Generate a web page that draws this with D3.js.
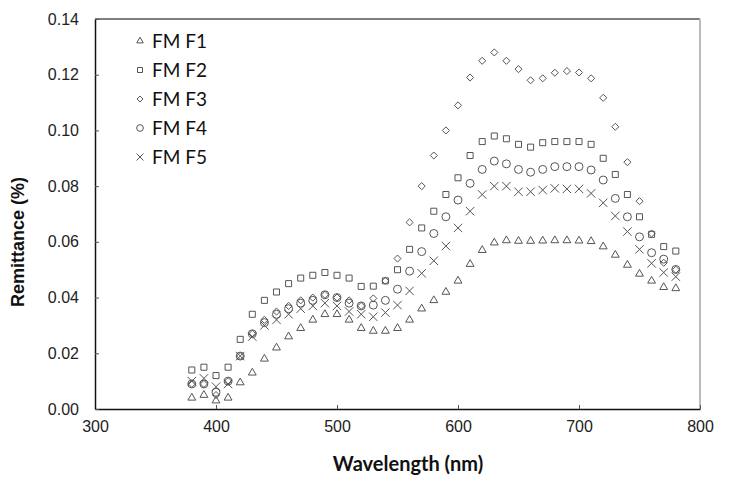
<!DOCTYPE html>
<html>
<head>
<meta charset="utf-8">
<script src="https://cdn.jsdelivr.net/npm/d3@7"></script>
<style>
  body { margin: 0; background: #fff; }
  svg { display: block; }
</style>
</head>
<body>
<svg width="736" height="487"></svg>
<script>
"use strict";

// comprimentos de onda, 380 a 780 nm de 10 em 10
var wavelengths = [380, 390, 400, 410, 420, 430, 440, 450, 460, 470,
    480, 490, 500, 510, 520, 530, 540, 550, 560, 570,
    580, 590, 600, 610, 620, 630, 640, 650, 660, 670,
    680, 690, 700, 710, 720, 730, 740, 750, 760, 770, 780];

var fmF1 = [0.004, 0.005, 0.003, 0.004, 0.0095, 0.013, 0.018, 0.022, 0.026, 0.029,
    0.032, 0.034, 0.034, 0.032, 0.029, 0.028, 0.028, 0.029, 0.032, 0.036,
    0.039, 0.042, 0.046, 0.052, 0.057, 0.0597, 0.0605, 0.0603, 0.0603, 0.0604,
    0.0605, 0.0605, 0.0604, 0.0602, 0.0583, 0.0553, 0.0517, 0.0485, 0.046, 0.0437, 0.0433];

var fmF2 = [0.014, 0.015, 0.012, 0.015, 0.025, 0.034, 0.039, 0.042, 0.045, 0.047,
    0.048, 0.049, 0.048, 0.047, 0.044, 0.0441, 0.046, 0.050, 0.0573, 0.065,
    0.071, 0.077, 0.083, 0.091, 0.096, 0.098, 0.097, 0.095, 0.094, 0.0956,
    0.096, 0.096, 0.096, 0.095, 0.090, 0.0842, 0.077, 0.069, 0.0627, 0.0583, 0.0567];

var fmF3 = [0.009, 0.009, 0.005, 0.010, 0.019, 0.027, 0.032, 0.035, 0.037, 0.039,
    0.040, 0.041, 0.040, 0.039, 0.037, 0.0397, 0.046, 0.054, 0.067, 0.080,
    0.091, 0.100, 0.109, 0.119, 0.125, 0.128, 0.125, 0.122, 0.118, 0.1187,
    0.1207, 0.1213, 0.1208, 0.1187, 0.1117, 0.1013, 0.0886, 0.0746, 0.063, 0.0525, 0.050];

var fmF4 = [0.009, 0.009, 0.006, 0.010, 0.019, 0.027, 0.031, 0.034, 0.036, 0.038,
    0.039, 0.041, 0.040, 0.038, 0.037, 0.0373, 0.039, 0.043, 0.0495, 0.0565,
    0.063, 0.069, 0.075, 0.081, 0.086, 0.089, 0.088, 0.086, 0.085, 0.086,
    0.087, 0.087, 0.087, 0.0858, 0.0822, 0.0756, 0.069, 0.0618, 0.0561, 0.0538, 0.0501];

var fmF5 = [0.010, 0.011, 0.008, 0.009, 0.019, 0.026, 0.030, 0.032, 0.034, 0.036,
    0.037, 0.038, 0.037, 0.035, 0.034, 0.0331, 0.0346, 0.0373, 0.0424, 0.0487,
    0.0532, 0.0585, 0.065, 0.071, 0.077, 0.080, 0.080, 0.078, 0.078, 0.0786,
    0.0792, 0.079, 0.079, 0.0774, 0.074, 0.0693, 0.0637, 0.0573, 0.0523, 0.049, 0.0475];

var seriesNames = ["FM F1", "FM F2", "FM F3", "FM F4", "FM F5"];
var seriesValues = [fmF1, fmF2, fmF3, fmF4, fmF5];

var xTicks = [300, 400, 500, 600, 700, 800];
var yTicks = [0, 0.02, 0.04, 0.06, 0.08, 0.10, 0.12, 0.14];

var svg = d3.select("svg");

var margem = { left: 95, right: 700, top: 19, bottom: 409 };

var x = d3.scaleLinear().domain([300, 800]).range([margem.left, margem.right]);
var y = d3.scaleLinear().domain([0, 0.14]).range([margem.bottom, margem.top]);

// bordas de cima e da direita
svg.append("line")
    .attr("x1", margem.left).attr("x2", margem.right)
    .attr("y1", margem.top).attr("y2", margem.top)
    .attr("stroke", "#555").attr("stroke-width", 1.5);
svg.append("line")
    .attr("x1", margem.right).attr("x2", margem.right)
    .attr("y1", margem.top).attr("y2", margem.bottom)
    .attr("stroke", "#bbb").attr("stroke-width", 2);

// eixos com marcas para dentro
var eixoX = d3.axisBottom(x).tickValues(xTicks).tickSizeInner(-4).tickSizeOuter(0)
    .tickPadding(12).tickFormat(d3.format("d"));
var eixoY = d3.axisLeft(y).tickValues(yTicks).tickSizeInner(-4).tickSizeOuter(0)
    .tickPadding(16).tickFormat(d3.format(".2f"));

var gx = svg.append("g")
    .attr("transform", "translate(0," + margem.bottom + ")")
    .call(eixoX);
var gy = svg.append("g")
    .attr("transform", "translate(" + margem.left + ",0)")
    .call(eixoY);

[gx, gy].forEach(function (g) {
    g.select(".domain").attr("stroke", "#111").attr("stroke-width", 1.5);
    g.selectAll(".tick line").attr("stroke", "#555");
    g.selectAll("text")
        .attr("fill", "#222")
        .style("font-family", "Arial, 'Liberation Sans', sans-serif")
        .style("font-size", "16px");
});

// titulos dos eixos
svg.append("text")
    .attr("transform", "translate(24,242) rotate(-90)")
    .attr("text-anchor", "middle")
    .style("font-family", "Arial, 'Liberation Sans', sans-serif")
    .style("font-weight", "bold")
    .style("font-size", "18px")
    .attr("fill", "#111")
    .text("Remittance (%)");

svg.append("text")
    .attr("x", 408)
    .attr("y", 471)
    .attr("text-anchor", "middle")
    .style("font-family", "Lato, sans-serif")
    .style("font-weight", "bold")
    .style("font-size", "20px")
    .attr("fill", "#111")
    .text("Wavelength (nm)");

// simbolos de cada serie
var simbolos = [d3.symbolTriangle2, d3.symbolSquare2, d3.symbolDiamond2, d3.symbolCircle, d3.symbolTimes];
var tamanhos = [44, 46, 32, 50, 48];

function desenhaSimbolo(g, i, escala) {
    g.append("path")
        .attr("d", d3.symbol().type(simbolos[i]).size(tamanhos[i] * escala)())
        .attr("fill", "none")
        .attr("stroke", "#555")
        .attr("stroke-width", 1);
}

seriesValues.forEach(function (valores, i) {
    var g = svg.append("g").attr("class", "serie");
    g.selectAll("g")
        .data(valores)
        .enter().append("g")
        .attr("transform", function (d, j) {
            return "translate(" + x(wavelengths[j]) + "," + y(d) + ")";
        })
        .each(function () {
            desenhaSimbolo(d3.select(this), i, 1);
        });
});

// legenda
var legenda = svg.append("g");
seriesNames.forEach(function (nome, i) {
    var linha = legenda.append("g")
        .attr("transform", "translate(140," + (41 + i * 29) + ")");
    desenhaSimbolo(linha, i, 0.7);
    linha.append("text")
        .attr("x", 12)
        .attr("y", 7)
        .style("font-family", "Lato, sans-serif")
        .style("font-size", "19px")
        .attr("fill", "#111")
        .text(nome);
});
</script>
</body>
</html>
